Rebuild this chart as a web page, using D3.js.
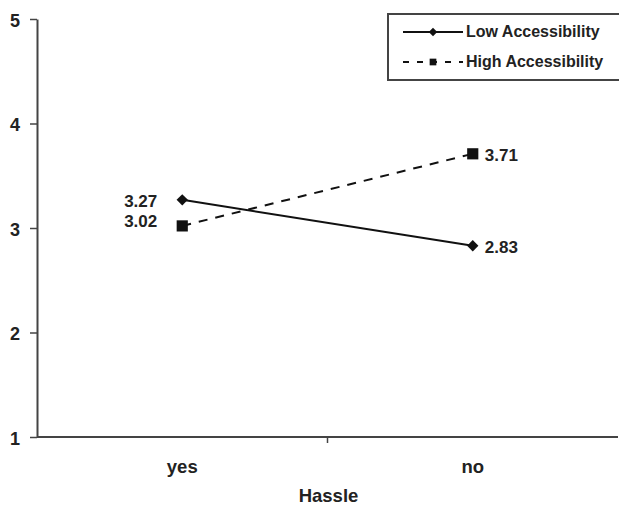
<!DOCTYPE html>
<html><head><meta charset="utf-8">
<script src="https://cdn.jsdelivr.net/npm/d3@7"></script>
<style>body{margin:0;background:#fff}svg{display:block;font-family:Arial,"Liberation Sans",sans-serif;font-weight:bold}</style>
</head><body>
<script>
const categories = ["yes", "no"];
const seriesNames = ["Low Accessibility", "High Accessibility"];
const lowValues = [3.27, 2.83];
const highValues = [3.02, 3.71];
const yTicks = [1, 2, 3, 4, 5];
const xTitle = "Hassle";

const W = 619, H = 506;
const svg = d3.select("body").append("svg").attr("width", W).attr("height", H);

const x = d3.scaleBand().domain(categories).range([37, 618]);
const y = d3.scaleLinear().domain([1, 5]).range([437, 19]);

// y axis
const yAxis = d3.axisLeft(y).tickValues(yTicks).tickFormat(d3.format("d")).tickSize(7).tickSizeOuter(0);
const gy = svg.append("g").attr("transform", "translate(37,0)").call(yAxis);
gy.select(".domain").attr("stroke", "#444").attr("stroke-width", 2);
gy.selectAll(".tick line").attr("stroke", "#444").attr("stroke-width", 1.5);
gy.selectAll(".tick text").attr("font-size", 18).attr("font-weight", "bold").attr("fill", "#222")
  .attr("font-family", "Arial, 'Liberation Sans', sans-serif").attr("x", -17).attr("dy", "0.4em");

// x axis
const gx = svg.append("g").attr("transform", "translate(0,437)");
gx.append("line").attr("x1", x.range()[0]).attr("x2", x.range()[1]).attr("stroke", "#444").attr("stroke-width", 2);
gx.selectAll(".sep").data(categories.slice(1)).enter().append("line")
  .attr("x1", d => x(d)).attr("x2", d => x(d)).attr("y1", 0).attr("y2", 6)
  .attr("stroke", "#444").attr("stroke-width", 1.5);
gx.selectAll(".cat").data(categories).enter().append("text")
  .attr("x", d => x(d) + x.bandwidth() / 2).attr("y", 36)
  .attr("text-anchor", "middle").attr("font-size", 18.5).attr("fill", "#222").text(d => d);
svg.append("text").attr("x", (x.range()[0] + x.range()[1]) / 2 + 1).attr("y", 502)
  .attr("text-anchor", "middle").attr("font-size", 18.5).attr("fill", "#222").text(xTitle);

const cx = d => x(d) + x.bandwidth() / 2;
const line = d3.line().x(d => cx(d.c)).y(d => y(d.v));
const lowData = categories.map((c, i) => ({c, v: lowValues[i]}));
const highData = categories.map((c, i) => ({c, v: highValues[i]}));

svg.append("path").datum(lowData).attr("d", line).attr("fill", "none").attr("stroke", "#111").attr("stroke-width", 2);
svg.append("path").datum(highData).attr("d", line).attr("fill", "none").attr("stroke", "#111").attr("stroke-width", 2).attr("stroke-dasharray", "9,8");

const diamond = d3.symbol().type(d3.symbolSquare).size(64);
const square = d3.symbol().type(d3.symbolSquare).size(125);
svg.selectAll(".low").data(lowData).enter().append("path")
  .attr("d", diamond).attr("transform", d => `translate(${cx(d.c)},${y(d.v)}) rotate(45)`).attr("fill", "#111");
svg.selectAll(".high").data(highData).enter().append("path")
  .attr("d", square).attr("transform", d => `translate(${cx(d.c)},${y(d.v)})`).attr("fill", "#111");

// value labels
const labelData = [
  {c: "yes", v: lowValues[0], dy: 7},
  {c: "yes", v: highValues[0], dy: 1},
  {c: "no", v: highValues[1], dy: 7},
  {c: "no", v: lowValues[1], dy: 7}
];
svg.selectAll(".lbl").data(labelData).enter().append("text")
  .attr("x", d => d.c === "yes" ? cx(d.c) - 25 : cx(d.c) + 12)
  .attr("y", d => y(d.v) + d.dy)
  .attr("text-anchor", d => d.c === "yes" ? "end" : "start")
  .attr("font-size", 17).attr("fill", "#222").text(d => d3.format(".2f")(d.v));

// legend
const lg = svg.append("g");
lg.append("rect").attr("x", 388).attr("y", 14).attr("width", 232).attr("height", 66)
  .attr("fill", "#fff").attr("stroke", "#444").attr("stroke-width", 2);
const legItems = [
  {name: seriesNames[0], dash: null, sym: d3.symbol().type(d3.symbolSquare).size(36), sc: "rotate(45)", ly: 32},
  {name: seriesNames[1], dash: "6,8", sym: d3.symbol().type(d3.symbolSquare).size(45), sc: "", ly: 62}
];
legItems.forEach(it => {
  lg.append("line").attr("x1", 403).attr("x2", 463).attr("y1", it.ly).attr("y2", it.ly)
    .attr("stroke", "#111").attr("stroke-width", 2).attr("stroke-dasharray", it.dash);
  lg.append("path").attr("d", it.sym).attr("transform", `translate(433,${it.ly}) ${it.sc}`).attr("fill", "#111");
  lg.append("text").attr("x", 466).attr("y", it.ly + 5).attr("font-size", 16).attr("fill", "#222").text(it.name);
});
</script>
</body></html>
